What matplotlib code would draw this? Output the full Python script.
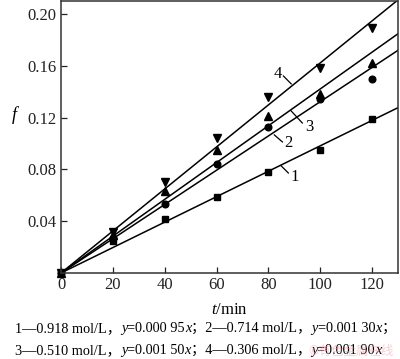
import numpy as np
import matplotlib
matplotlib.use("Agg")
from matplotlib import pyplot as plt

plt.rcParams['font.family'] = ['Liberation Serif', 'Noto Sans CJK SC']
plt.rcParams['mathtext.fontset'] = 'custom'
plt.rcParams['mathtext.rm'] = 'Liberation Serif'
plt.rcParams['mathtext.it'] = 'Liberation Serif:italic'

t = np.array([0, 20, 40, 60, 80, 100, 120])
f1 = np.array([0, 0.025, 0.042, 0.059, 0.078, 0.095, 0.119])
f2 = np.array([0, 0.027, 0.053, 0.084, 0.113, 0.134, 0.150])
f3 = np.array([0, 0.029, 0.063, 0.095, 0.121, 0.138, 0.162])
f4 = np.array([0, 0.032, 0.070, 0.104, 0.136, 0.158, 0.189])
series = [f1, f2, f3, f4]
markers = ['s', 'o', '^', 'v']
msizes = [4.2, 4.8, 5.2, 5.2]
names = ['1', '2', '3', '4']
# label text position and leader line (start, end), data coords
lab_pos = [(90, 0.0741), (87.7, 0.1004), (95.8, 0.1127), (83.5, 0.1533)]
lead_a = [(85.0, 0.0826), (82.3, 0.1066), (88.8, 0.1251), (85.8, 0.1521)]
lead_b = [(87.7, 0.0772), (85.4, 0.1012), (93.1, 0.1158), (88.8, 0.1460)]

fig = plt.figure(figsize=(4.0, 3.59), dpi=100)
ax = fig.add_axes([61/400, 1-273/359, 337/400, 272/359])

tt = np.array([0, 130])
for y, m, ms in zip(series, markers, msizes):
    k = np.sum(t*y)/np.sum(t*t)   # fit through origin
    ax.plot(tt, k*tt, color='k', lw=1.1)
    ax.plot(t, y, ls='none', marker=m, ms=ms, color='k', clip_on=False)

for n, p, a, b in zip(names, lab_pos, lead_a, lead_b):
    ax.plot([a[0], b[0]], [a[1], b[1]], color='k', lw=0.9)
    ax.text(p[0], p[1], n, fontsize=12, ha='center', va='center')

ax.set_xlim(0, 130)
ax.set_ylim(0, 0.21)
ax.set_xticks([0, 20, 40, 60, 80, 100, 120])
ax.set_yticks([0.04, 0.08, 0.12, 0.16, 0.20])
ax.set_yticklabels(['0.04', '0.08', '0.12', '0.16', '0.20'])
ax.tick_params(direction='in', length=4, width=0.9, labelsize=12, colors='#222222', pad=3)
for s in ax.spines.values():
    s.set_color('#333333')
    s.set_linewidth(1.1)

ax.set_xlabel('$t$/min', fontsize=12)
ax.xaxis.set_label_coords(0.5, -0.105)
ax.set_ylabel('$f$', fontsize=13, rotation=0)
ax.yaxis.set_label_coords(-0.136, 0.54)


def chain(pieces, x, y):
    prev = fig.text(x, y, pieces[0][0], fontsize=10.3, style=pieces[0][1], va='baseline')
    for s, st in pieces[1:]:
        prev = ax.annotate(s, xy=(1, y), xycoords=(prev, 'figure fraction'),
                           fontsize=10.3, style=st, va='baseline', ha='left',
                           annotation_clip=False)


line1 = [('1—0.918 mol/L，', 'normal'), ('y', 'italic'), ('=0.000 95', 'normal'), ('x', 'italic'),
         ('；2—0.714 mol/L，', 'normal'), ('y', 'italic'), ('=0.001 30', 'normal'), ('x', 'italic'),
         ('；', 'normal')]
line2 = [('3—0.510 mol/L，', 'normal'), ('y', 'italic'), ('=0.001 50', 'normal'), ('x', 'italic'),
         ('；4—0.306 mol/L，', 'normal'), ('y', 'italic'), ('=0.001 90', 'normal'), ('x', 'italic')]
chain(line1, 15/400, 1-332/359)
chain(line2, 15/400, 1-354/359)

fig.text(0.985, 1-355/359, '©有色金属在线', fontsize=9, color='#f2a0aa', alpha=0.5,
         ha='right', va='baseline', family=['Noto Sans CJK SC'], zorder=0)

fig.savefig('out.png', dpi=100)
